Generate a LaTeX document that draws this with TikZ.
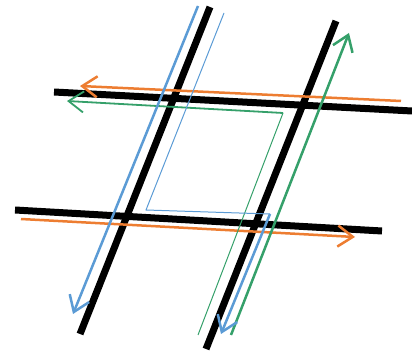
\documentclass[tikz,border=0pt]{standalone}
\usetikzlibrary{arrows.meta}

\definecolor{laneorange}{HTML}{ED7D31}
\definecolor{laneblue}{HTML}{5B9BD5}
\definecolor{lanegreen}{HTML}{35A06A}

\begin{document}
\begin{tikzpicture}[x=1pt,y=-1pt,
    road/.style={line width=7pt},
    lane/.style={line width=2.5pt},
    thinlane/.style={line width=1pt},
    tip/.style={-{Straight Barb[length=15pt,width=21pt]}}]
        \useasboundingbox (0,0) rectangle (412,352);
        % black grid
        \draw[road] (54,92) -- (412,111);
        \draw[road] (15,210) -- (382,231);
        \draw[road] (210,7) -- (80,334);
        \draw[road] (336,21) -- (206,349);
        % orange
        \draw[lane,laneorange,tip] (401,101) -- (80,86);
        \draw[lane,laneorange,tip] (21,219) -- (355,237);
        % green
        \draw[thinlane,lanegreen] (198,335) -- (283,113);
        \draw[line width=1.8pt,lanegreen,tip] (283,113) -- (67,101);
        \draw[lane,lanegreen,tip] (231,335) -- (349,33);
        % blue
        \draw[lane,laneblue,tip] (198,6) -- (73,314);
        \draw[thinlane,laneblue] (224,13) -- (146,210) -- (270,214);
        \draw[lane,laneblue,tip] (270,214) -- (221,334);
    \end{tikzpicture}
\end{document}
